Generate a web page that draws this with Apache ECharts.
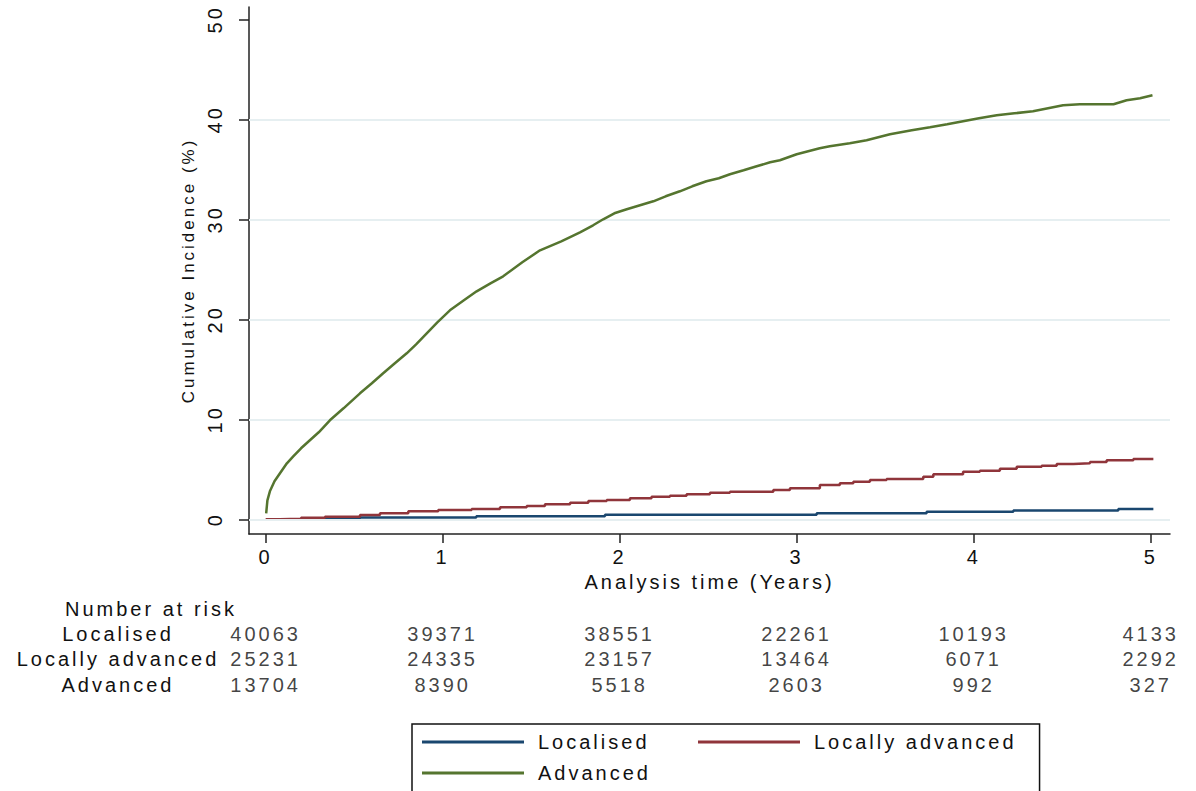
<!DOCTYPE html>
<html>
<head>
<meta charset="utf-8">
<script src="https://cdn.jsdelivr.net/npm/echarts@6.0.0/dist/echarts.min.js"></script>
<style>
  html, body { margin: 0; padding: 0; background: #fff; }
  #chart { width: 1196px; height: 791px; }
  /* Stata-like wide spacing of the letters */
  #chart text { letter-spacing: 3px; }
</style>
</head>
<body>
<div id="chart"></div>
<script>
// years since diagnosis, cumulative incidence (%)
var localised = [
  [0.07, 0], [0.26, 0.07], [0.533, 0.17], [1.19, 0.3], [1.917, 0.45],
  [3.113, 0.6], [3.734, 0.76], [4.224, 0.88], [4.817, 1.03], [5.015, 1.03]
];
var locallyAdvanced = [
  [0.0, 0], [0.08, 0.06], [0.2, 0.15], [0.335, 0.26], [0.533, 0.43], [0.646, 0.6],
  [0.806, 0.8], [0.975, 0.93], [1.164, 1.03], [1.324, 1.2], [1.475, 1.33], [1.578, 1.5],
  [1.72, 1.66], [1.823, 1.83], [1.927, 1.93], [2.058, 2.1], [2.18, 2.26], [2.284, 2.36],
  [2.378, 2.5], [2.51, 2.66], [2.623, 2.76], [2.868, 2.93], [2.962, 3.1], [3.131, 3.43],
  [3.244, 3.6], [3.32, 3.76], [3.414, 3.93], [3.508, 4.03], [3.715, 4.26], [3.772, 4.5],
  [3.94, 4.76], [4.035, 4.86], [4.148, 5.06], [4.243, 5.26], [4.384, 5.36], [4.469, 5.53],
  [4.563, 5.6], [4.657, 5.73], [4.751, 5.9], [4.902, 6.03], [5.015, 6.03]
];
var advanced = [
  [0.003, 0.6], [0.01, 1.9], [0.024, 2.8], [0.05, 3.8], [0.081, 4.6], [0.12, 5.6],
  [0.156, 6.3], [0.2, 7.1], [0.25, 7.9], [0.3, 8.7], [0.363, 9.9], [0.44, 11.1],
  [0.533, 12.6], [0.6, 13.6], [0.664, 14.6], [0.73, 15.6], [0.797, 16.6], [0.85, 17.5],
  [0.91, 18.6], [0.97, 19.7], [1.041, 20.9], [1.12, 21.9], [1.192, 22.8], [1.27, 23.6],
  [1.342, 24.3], [1.45, 25.7], [1.55, 26.9], [1.67, 27.8], [1.776, 28.7], [1.85, 29.4],
  [1.907, 30.0], [1.97, 30.6], [2.04, 31.0], [2.115, 31.4], [2.19, 31.8], [2.26, 32.3],
  [2.34, 32.8], [2.41, 33.3], [2.49, 33.8], [2.56, 34.1], [2.623, 34.5], [2.7, 34.9],
  [2.774, 35.3], [2.85, 35.7], [2.905, 35.9], [3.0, 36.5], [3.13, 37.1], [3.187, 37.3],
  [3.3, 37.6], [3.395, 37.9], [3.527, 38.5], [3.65, 38.9], [3.753, 39.2], [3.85, 39.5],
  [3.94, 39.8], [4.03, 40.1], [4.13, 40.4], [4.23, 40.6], [4.335, 40.8], [4.42, 41.1],
  [4.505, 41.4], [4.6, 41.5], [4.79, 41.5], [4.864, 41.9], [4.94, 42.1], [5.01, 42.4]
];

var seriesNames = ['Localised', 'Locally advanced', 'Advanced'];
var xTicks = [0, 1, 2, 3, 4, 5];
var yTicks = [0, 10, 20, 30, 40, 50];
var gridValues = [0, 10, 20, 30, 40];

// number at risk, one value per x tick
var riskTimes = [0, 1, 2, 3, 4, 5];
var riskLocalised = [40063, 39371, 38551, 22261, 10193, 4133];
var riskLocallyAdvanced = [25231, 24335, 23157, 13464, 6071, 2292];
var riskAdvanced = [13704, 8390, 5518, 2603, 992, 327];

var FONT = 'Liberation Sans, Arial, sans-serif';
var colors = ['#1a476f', '#90353b', '#55752f'];
var X_MIN = -0.094, X_MAX = 5.109;

function riskRow(name, counts) {
  return {
    type: 'scatter', xAxisIndex: 1, yAxisIndex: 1, silent: true,
    symbolSize: 1, itemStyle: { color: 'rgba(0,0,0,0)' },
    label: {
      show: true, position: 'inside', color: '#111', fontSize: 20, fontFamily: FONT,
      formatter: function (p) { return p.value[2]; }
    },
    data: riskTimes.map(function (t, i) { return [t, name, counts[i]]; })
  };
}

var chart = echarts.init(document.getElementById('chart'), null, { renderer: 'svg' });

chart.setOption({
  animation: false,
  backgroundColor: '#fff',
  title: {
    text: 'Number at risk', left: 65, top: 599, padding: 0,
    textStyle: { fontSize: 20, fontWeight: 'normal', color: '#111', fontFamily: FONT }
  },
  legend: {
    data: seriesNames,
    left: 412, top: 724, width: 560,
    padding: [7.5, 71, 20, 10],
    itemGap: 10, itemWidth: 102, itemHeight: 3,
    icon: 'rect',
    borderColor: '#111', borderWidth: 1.5,
    textStyle: { fontSize: 20, color: '#111', fontFamily: FONT, width: 150, lineHeight: 21, padding: [0, 0, 0, 9] }
  },
  grid: [
    { left: 249, right: 26, top: 7, bottom: 257 },
    { left: 249, right: 26, top: 621, height: 76.5 }
  ],
  xAxis: [{
    type: 'value', gridIndex: 0, min: X_MIN, max: X_MAX,
    name: 'Analysis time (Years)', nameLocation: 'middle', nameGap: 36,
    nameTextStyle: { fontSize: 20, color: '#111', fontFamily: FONT },
    axisLine: { show: true, onZero: false, lineStyle: { color: '#222', width: 1.5 } },
    axisTick: { show: true, length: 9, customValues: xTicks, lineStyle: { color: '#222', width: 1.5 } },
    axisLabel: { customValues: xTicks, margin: 13, fontSize: 20, color: '#111', fontFamily: FONT },
    splitLine: { show: false }
  }, {
    type: 'value', gridIndex: 1, min: X_MIN, max: X_MAX, show: false
  }],
  yAxis: [{
    type: 'value', gridIndex: 0, min: -1.47, max: 51.23,
    name: 'Cumulative Incidence (%)', nameLocation: 'middle', nameGap: 50, nameRotate: 90,
    nameTextStyle: { fontSize: 17, color: '#111', fontFamily: FONT },
    axisLine: { show: true, onZero: false, lineStyle: { color: '#222', width: 1.5 } },
    axisTick: { show: true, length: 10, customValues: yTicks, lineStyle: { color: '#222', width: 1.5 } },
    axisLabel: { customValues: yTicks, rotate: 90, margin: 24, fontSize: 20, color: '#111', fontFamily: FONT },
    splitLine: { show: false }
  }, {
    type: 'category', gridIndex: 1, inverse: true, data: seriesNames,
    axisLine: { show: false }, axisTick: { show: false }, splitLine: { show: false },
    axisLabel: { interval: 0, align: 'center', margin: 131, fontSize: 20, color: '#111', fontFamily: FONT }
  }],
  series: [
    {
      name: 'gridlines', type: 'line', data: [], silent: true, z: 1,
      markLine: {
        silent: true, symbol: 'none', animation: false, label: { show: false },
        lineStyle: { color: '#e6eff1', width: 2, type: 'solid' },
        data: gridValues.map(function (v) { return { yAxis: v }; })
      }
    },
    {
      name: 'Localised', type: 'line', step: 'end', showSymbol: false, data: localised,
      color: colors[0], lineStyle: { width: 2.5 }, z: 3
    },
    {
      name: 'Locally advanced', type: 'line', step: 'end', showSymbol: false, data: locallyAdvanced,
      color: colors[1], lineStyle: { width: 2.5 }, z: 4
    },
    {
      name: 'Advanced', type: 'line', showSymbol: false, data: advanced,
      color: colors[2], lineStyle: { width: 2.5 }, z: 5
    },
    riskRow('Localised', riskLocalised),
    riskRow('Locally advanced', riskLocallyAdvanced),
    riskRow('Advanced', riskAdvanced)
  ]
});
</script>
</body>
</html>
